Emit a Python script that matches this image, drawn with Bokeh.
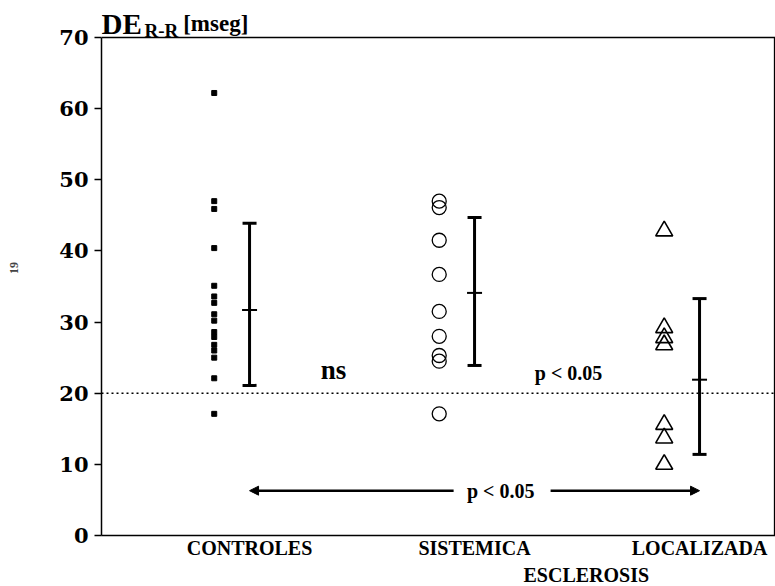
from bokeh.plotting import figure
from bokeh.models import Range1d, Label, Arrow, NormalHead, Span, FixedTicker, Title
from bokeh.embed import file_html
from bokeh.resources import INLINE

# ---- data ----
categories = ["CONTROLES", "SISTEMICA", "LOCALIZADA"]
controles = [62.2, 47.0, 45.9, 40.4, 35.1, 33.6, 32.7, 31.1, 30.2, 28.6, 27.9, 26.8, 26.0, 25.0, 22.1, 17.1]
sistemica = [47.0, 46.1, 41.5, 36.7, 31.5, 28.0, 25.3, 24.5, 17.1]
localizada = [42.8, 29.2, 27.8, 26.8, 15.6, 13.7, 10.0]
means = [31.7, 34.1, 21.9]
upper = [43.9, 44.7, 33.3]
lower = [21.1, 23.9, 11.4]
y_ticks = [0, 10, 20, 30, 40, 50, 60, 70]
threshold = 20

FONT = "Liberation Serif"
pos = [1, 2, 3]
off = -0.157
x_lo, x_hi = 0.342, 3.3376
y_lo, y_top = 0, 75.2
y_max = y_ticks[-1]

p = figure(width=775, height=586, output_backend="svg", toolbar_location=None,
           x_range=Range1d(x_lo, x_hi), y_range=Range1d(y_lo, y_top),
           min_border_left=101, min_border_right=0, min_border_top=0, min_border_bottom=51)
p.title.visible = False
p.xgrid.visible = False
p.ygrid.visible = False
p.outline_line_color = None
p.background_fill_color = "white"
p.border_fill_color = "white"

# y axis
p.yaxis.ticker = FixedTicker(ticks=y_ticks)
p.yaxis.bounds = (y_lo, y_max)
p.yaxis.minor_tick_line_color = None
p.yaxis.major_tick_out = 7
p.yaxis.major_tick_in = 0
p.yaxis.major_tick_line_width = 1.5
p.yaxis.axis_line_width = 1.5
p.yaxis.major_label_standoff = 6
p.yaxis.major_label_text_font = "DejaVu Serif"
p.yaxis.major_label_text_font_style = "bold"
p.yaxis.major_label_text_font_size = "21px"
p.yaxis.major_label_text_color = "black"
p.yaxis.axis_label = "19"
p.yaxis.axis_label_text_font = FONT
p.yaxis.axis_label_text_font_style = "bold"
p.yaxis.axis_label_text_font_size = "12px"
p.yaxis.axis_label_standoff = 38

# x axis
p.xaxis.ticker = FixedTicker(ticks=pos)
p.xaxis.major_label_overrides = {pos[i]: categories[i] for i in range(3)}
p.xaxis.major_tick_out = 0
p.xaxis.major_tick_in = 0
p.xaxis.minor_tick_line_color = None
p.xaxis.axis_line_width = 1.5
p.xaxis.major_label_standoff = 1
p.xaxis.major_label_text_line_height = 1.0
p.xaxis.major_label_text_font = FONT
p.xaxis.major_label_text_font_style = "bold"
p.xaxis.major_label_text_font_size = "20px"
p.xaxis.major_label_text_color = "black"

p.add_layout(Title(text="ESCLEROSIS", align="left", offset=422, standoff=0,
                   text_line_height=1.0,
                   text_font=FONT, text_font_style="bold", text_font_size="20px",
                   text_color="black"), "below")

# box top and right edges
p.segment(x0=[x_lo, x_hi - 0.004], y0=[y_max, y_lo], x1=[x_hi, x_hi - 0.004], y1=[y_max, y_max],
          line_color="black", line_width=1.5)

# reference line
p.add_layout(Span(location=threshold, dimension="width", line_color="black",
                  line_dash="2 3", line_width=1.5))

# points
p.scatter([pos[0] + off] * len(controles), controles, marker="square", size=5,
          fill_color="black", line_color="black")
p.scatter([pos[1] + off] * len(sistemica), sistemica, marker="circle", size=14,
          fill_color=None, line_color="black", line_width=1.3)
p.scatter([pos[2] + off] * len(localizada), localizada, marker="triangle", size=17,
          fill_color=None, line_color="black", line_width=1.6)

# error bars
p.segment(x0=pos, y0=lower, x1=pos, y1=upper, line_color="black", line_width=3)
p.scatter(pos, upper, marker="dash", size=14, line_color="black", line_width=3)
p.scatter(pos, lower, marker="dash", size=14, line_color="black", line_width=3)
p.scatter(pos, means, marker="dash", size=15, line_color="black", line_width=2)

# significance arrow
arrow_y = 6.3
p.add_layout(Arrow(end=NormalHead(size=9, fill_color="black", line_color="black"),
                   x_start=1.907, y_start=arrow_y, x_end=pos[0], y_end=arrow_y,
                   line_color="black", line_width=2.5))
p.add_layout(Arrow(end=NormalHead(size=9, fill_color="black", line_color="black"),
                   x_start=2.338, y_start=arrow_y, x_end=pos[2], y_end=arrow_y,
                   line_color="black", line_width=2.5))

def lab(x, y, text, size, align="center", baseline="middle", font=FONT):
    p.add_layout(Label(x=x, y=y, text=text, text_font=font, text_font_style="bold",
                       text_font_size=size, text_align=align, text_baseline=baseline,
                       text_color="black"))

lab(2.116, 6.2, "p < 0.05", "20px")
lab(2.418, 22.8, "p < 0.05", "20px")
lab(1.373, 23.3, "ns", "27px")

# y-axis title
lab(0.342, 71.9, "DE", "29px", align="left", baseline="alphabetic")
lab(0.5327, 71.0, "R-R", "19px", align="left", baseline="alphabetic")
lab(0.705, 71.9, "[mseg]", "23px", align="left", baseline="alphabetic")

open("out.html", "w").write(file_html(p, INLINE))
